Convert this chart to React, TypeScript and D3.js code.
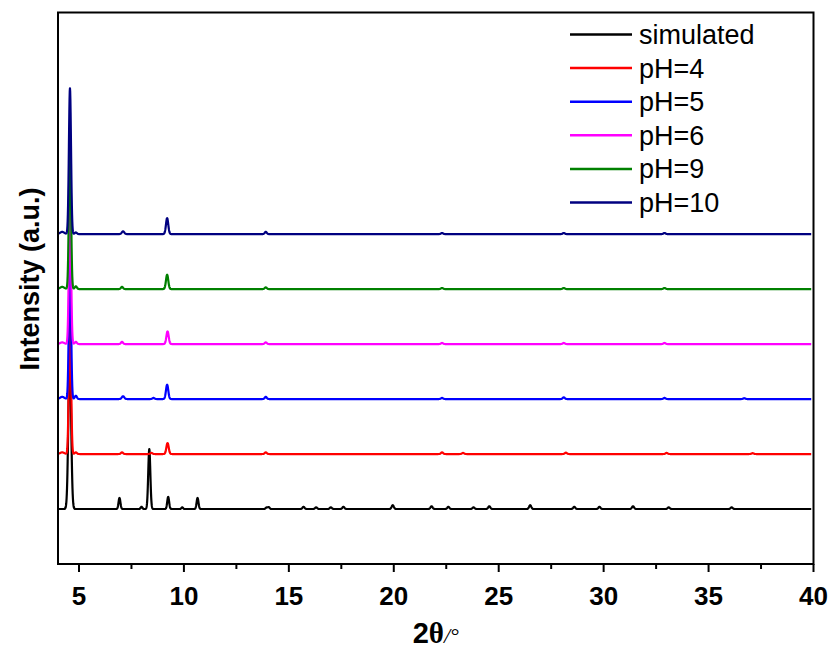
import React from "react";
import * as d3 from "d3";

// ---- data ----
const seriesNames = ["simulated", "pH=4", "pH=5", "pH=6", "pH=9", "pH=10"];
const seriesColors = ["#000000", "#ff0000", "#0000ff", "#ff00ff", "#008000", "#000080"];
const seriesOffsets = [0, 1, 2, 3, 4, 5];
const xTicks = [5, 10, 15, 20, 25, 30, 35, 40];
const xMinorTicks = [7.5, 12.5, 17.5, 22.5, 27.5, 32.5, 37.5];

// peaks: [2theta, height (a.u.), sigma]
const peaksSimulated: [number, number, number][] = [
  [4.56, 2.8, 0.065], [6.93, 0.2, 0.045], [7.98, 0.04, 0.04], [8.35, 1.09, 0.05],
  [9.25, 0.22, 0.045], [9.92, 0.03, 0.04], [10.65, 0.2, 0.045], [13.95, 0.03, 0.05],
  [14.05, 0.03, 0.04], [15.7, 0.04, 0.05], [16.3, 0.03, 0.05], [17.0, 0.03, 0.05],
  [17.6, 0.04, 0.05], [19.95, 0.07, 0.05], [21.8, 0.05, 0.05], [22.6, 0.04, 0.05],
  [23.8, 0.03, 0.05], [24.55, 0.05, 0.05], [26.5, 0.07, 0.05], [28.6, 0.04, 0.05],
  [29.8, 0.04, 0.05], [31.4, 0.05, 0.05], [33.1, 0.03, 0.05], [36.1, 0.03, 0.05],
];
const peaksPH4: [number, number, number][] = [
  [4.2, 0.03, 0.1], [4.57, 2.65, 0.05], [4.85, 0.03, 0.05], [7.05, 0.03, 0.05],
  [8.45, 0.02, 0.05], [9.22, 0.2, 0.055], [13.9, 0.03, 0.05], [22.3, 0.03, 0.05],
  [23.3, 0.02, 0.05], [28.2, 0.025, 0.05], [33.0, 0.02, 0.05], [37.1, 0.015, 0.05],
];
const peaksPH5: [number, number, number][] = [
  [4.2, 0.04, 0.1], [4.57, 2.65, 0.05], [4.85, 0.06, 0.05], [7.1, 0.05, 0.06],
  [8.55, 0.02, 0.05], [9.2, 0.26, 0.055], [13.9, 0.04, 0.05], [22.3, 0.02, 0.05],
  [28.1, 0.03, 0.05], [32.9, 0.02, 0.05], [36.7, 0.015, 0.05],
];
const peaksPH6: [number, number, number][] = [
  [4.2, 0.03, 0.1], [4.57, 2.65, 0.05], [4.85, 0.04, 0.05], [7.05, 0.04, 0.05],
  [9.22, 0.23, 0.055], [13.9, 0.03, 0.05], [22.3, 0.02, 0.05], [28.1, 0.02, 0.05],
  [32.9, 0.02, 0.05],
];
const peaksPH9: [number, number, number][] = [
  [4.2, 0.04, 0.1], [4.57, 2.65, 0.05], [4.85, 0.05, 0.05], [7.05, 0.04, 0.05],
  [9.2, 0.26, 0.055], [13.9, 0.03, 0.05], [22.3, 0.02, 0.05], [28.1, 0.02, 0.05],
  [32.9, 0.02, 0.05],
];
const peaksPH10: [number, number, number][] = [
  [4.2, 0.04, 0.1], [4.57, 2.65, 0.05], [4.85, 0.03, 0.05], [7.1, 0.05, 0.06],
  [9.2, 0.29, 0.055], [13.9, 0.04, 0.05], [22.3, 0.02, 0.05], [28.1, 0.02, 0.05],
  [32.9, 0.02, 0.05],
];
const seriesPeaks = [peaksSimulated, peaksPH4, peaksPH5, peaksPH6, peaksPH9, peaksPH10];

const W = 834;
const H = 666;
const M = { left: 58, right: 813.5, top: 12.5, bottom: 564 };
const FONT = "Arial, 'Liberation Sans', Helvetica, sans-serif";
const SERIF = "'Liberation Serif', 'Times New Roman', serif";

function profile(peaks: [number, number, number][], offset: number) {
  const xs = d3.range(4, 39.9, 0.01);
  return xs.map((x) => {
    let y = offset;
    for (const [c, h, s] of peaks) {
      const d = (x - c) / s;
      if (Math.abs(d) < 8) y += h * Math.exp(-0.5 * d * d);
    }
    return [x, y] as [number, number];
  });
}

export default function App() {
  const x = d3.scaleLinear().domain([4, 40]).range([M.left, M.right]);
  const y = d3.scaleLinear().domain([-1, 9.03]).range([M.bottom, M.top]);
  const line = d3
    .line<[number, number]>()
    .x((d) => x(d[0]))
    .y((d) => y(d[1]));

  const legendX = 570;
  const legendY0 = 34.5;
  const legendStep = 33.6;

  return (
    <svg width={W} height={H} style={{ display: "block", position: "absolute", left: 0, top: 0 }}>
      <rect x={0} y={0} width={W} height={H} fill="#fff" />
      {seriesPeaks.map((p, i) => (
        <path
          key={i}
          d={line(profile(p, seriesOffsets[i])) || ""}
          fill="none"
          stroke={seriesColors[i]}
          strokeWidth={2.2}
          strokeLinejoin="round"
        />
      ))}
      {/* frame */}
      <rect
        x={M.left}
        y={M.top}
        width={M.right - M.left}
        height={M.bottom - M.top}
        fill="none"
        stroke="#000"
        strokeWidth={2}
      />
      {/* x ticks */}
      {xTicks.map((t) => (
        <g key={t}>
          <line x1={x(t)} x2={x(t)} y1={M.bottom} y2={M.bottom + 8} stroke="#000" strokeWidth={2} />
          <text
            x={x(t)}
            y={605}
            textAnchor="middle"
            fontFamily={FONT}
            fontWeight="bold"
            fontSize={26}
            fill="#000"
          >
            {t}
          </text>
        </g>
      ))}
      {xMinorTicks.map((t) => (
        <line key={t} x1={x(t)} x2={x(t)} y1={M.bottom} y2={M.bottom + 5} stroke="#000" strokeWidth={2} />
      ))}
      {/* axis titles */}
      <text x={(M.left + M.right) / 2} y={643} textAnchor="middle" fontWeight="bold" fontSize={29} fill="#000">
        <tspan fontFamily={FONT}>2</tspan>
        <tspan fontFamily={SERIF} fontWeight="bold">θ</tspan>
        <tspan fontFamily={SERIF} fontWeight="normal" fontStyle="italic" fontSize={22}>/°</tspan>
      </text>
      <text
        transform={`translate(39, 279) rotate(-90)`}
        textAnchor="middle"
        fontFamily={FONT}
        fontWeight="bold"
        fontSize={27}
        fill="#000"
      >
        Intensity (a.u.)
      </text>
      {/* legend */}
      {seriesNames.map((n, i) => (
        <g key={n}>
          <line
            x1={legendX}
            x2={legendX + 62}
            y1={legendY0 + i * legendStep}
            y2={legendY0 + i * legendStep}
            stroke={seriesColors[i]}
            strokeWidth={2.5}
          />
          <text
            x={legendX + 69}
            y={legendY0 + i * legendStep + 9.5}
            fontFamily={FONT}
            fontSize={27}
            fill="#000"
          >
            {n}
          </text>
        </g>
      ))}
    </svg>
  );
}
